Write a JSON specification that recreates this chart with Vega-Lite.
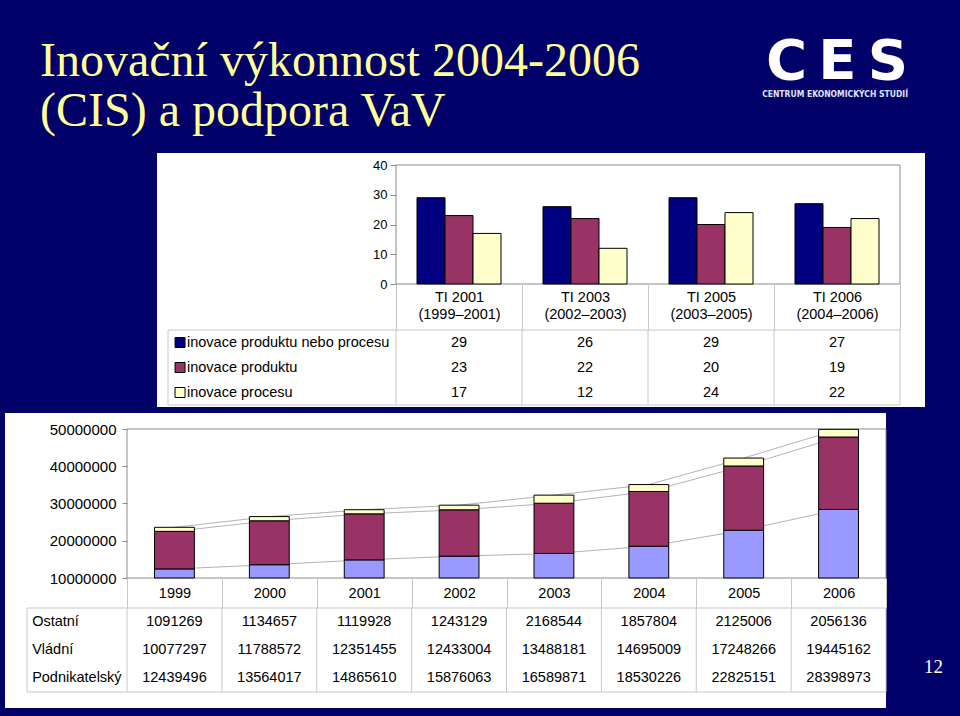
{
  "$schema": "https://vega.github.io/schema/vega-lite/v6.json",
  "background": "#000068",
  "padding": {"left": 5, "top": 33, "right": 20, "bottom": 10},
  "autosize": {"type": "pad"},
  "spacing": 6,
  "resolve": {"scale": {"color": "independent"}},
  "datasets": {
    "cis": [
      {"cat": "TI 2001 (1999–2001)", "series": "inovace produktu nebo procesu", "value": 29},
      {"cat": "TI 2001 (1999–2001)", "series": "inovace produktu", "value": 23},
      {"cat": "TI 2001 (1999–2001)", "series": "inovace procesu", "value": 17},
      {"cat": "TI 2003 (2002–2003)", "series": "inovace produktu nebo procesu", "value": 26},
      {"cat": "TI 2003 (2002–2003)", "series": "inovace produktu", "value": 22},
      {"cat": "TI 2003 (2002–2003)", "series": "inovace procesu", "value": 12},
      {"cat": "TI 2005 (2003–2005)", "series": "inovace produktu nebo procesu", "value": 29},
      {"cat": "TI 2005 (2003–2005)", "series": "inovace produktu", "value": 20},
      {"cat": "TI 2005 (2003–2005)", "series": "inovace procesu", "value": 24},
      {"cat": "TI 2006 (2004–2006)", "series": "inovace produktu nebo procesu", "value": 27},
      {"cat": "TI 2006 (2004–2006)", "series": "inovace produktu", "value": 19},
      {"cat": "TI 2006 (2004–2006)", "series": "inovace procesu", "value": 22}
    ],
    "vav": [
      {"year": "1999", "series": "Podnikatelský", "k": 1, "value": 12439496},
      {"year": "1999", "series": "Vládní", "k": 2, "value": 10077297},
      {"year": "1999", "series": "Ostatní", "k": 3, "value": 1091269},
      {"year": "2000", "series": "Podnikatelský", "k": 1, "value": 13564017},
      {"year": "2000", "series": "Vládní", "k": 2, "value": 11788572},
      {"year": "2000", "series": "Ostatní", "k": 3, "value": 1134657},
      {"year": "2001", "series": "Podnikatelský", "k": 1, "value": 14865610},
      {"year": "2001", "series": "Vládní", "k": 2, "value": 12351455},
      {"year": "2001", "series": "Ostatní", "k": 3, "value": 1119928},
      {"year": "2002", "series": "Podnikatelský", "k": 1, "value": 15876063},
      {"year": "2002", "series": "Vládní", "k": 2, "value": 12433004},
      {"year": "2002", "series": "Ostatní", "k": 3, "value": 1243129},
      {"year": "2003", "series": "Podnikatelský", "k": 1, "value": 16589871},
      {"year": "2003", "series": "Vládní", "k": 2, "value": 13488181},
      {"year": "2003", "series": "Ostatní", "k": 3, "value": 2168544},
      {"year": "2004", "series": "Podnikatelský", "k": 1, "value": 18530226},
      {"year": "2004", "series": "Vládní", "k": 2, "value": 14695009},
      {"year": "2004", "series": "Ostatní", "k": 3, "value": 1857804},
      {"year": "2005", "series": "Podnikatelský", "k": 1, "value": 22825151},
      {"year": "2005", "series": "Vládní", "k": 2, "value": 17248266},
      {"year": "2005", "series": "Ostatní", "k": 3, "value": 2125006},
      {"year": "2006", "series": "Podnikatelský", "k": 1, "value": 28398973},
      {"year": "2006", "series": "Vládní", "k": 2, "value": 19445162},
      {"year": "2006", "series": "Ostatní", "k": 3, "value": 2056136}
    ]
  },
  "vconcat": [
    {
      "columns": 2,
      "spacing": 0,
      "bounds": "flush",
      "concat": [
        {
          "width": 152, "height": 177,
          "view": {"fill": null, "stroke": null},
          "data": {"values": []},
          "mark": "text",
          "encoding": {},
          "title": {"text": ["Inovační výkonnost 2004-2006", "(CIS) a podpora VaV"], "orient": "top", "anchor": "start", "frame": "group", "font": "Liberation Serif", "fontSize": 48, "fontWeight": "normal", "color": "#FFFF99", "lineHeight": 50, "baseline": "alphabetic", "offset": -21, "dx": 35}
        },
        {
          "width": 768, "height": 177,
          "view": {"fill": "white", "stroke": null},
          "title": {"text": "C\u2009E\u2009S", "subtitle": "CENTRUM EKONOMICKÝCH STUDIÍ", "orient": "top", "anchor": "end", "frame": "group", "font": "DejaVu Sans", "fontSize": 56, "fontWeight": "bold", "color": "#FFFFFF", "subtitleFont": "DejaVu Sans Condensed, Liberation Sans Narrow, Liberation Sans", "subtitleFontSize": 8.5, "subtitleFontWeight": "bold", "subtitleColor": "#E0E4F4", "subtitlePadding": -38, "baseline": "alphabetic", "offset": 10, "dx": -17},
          "layer": [
            {
              "data": {"values": [{}]},
              "mark": {"type": "rect", "filled": false, "color": "#8C8C8C", "strokeWidth": 1},
              "encoding": {
                "x": {"datum": "TI 2001 (1999–2001)", "type": "nominal", "bandPosition": 0,
                      "scale": {"type": "band", "domain": ["TI 2001 (1999–2001)", "TI 2003 (2002–2003)", "TI 2005 (2003–2005)", "TI 2006 (2004–2006)"], "range": [239, 743], "paddingInner": 0, "paddingOuter": 0, "round": false},
                      "axis": {"orient": "bottom", "offset": -46, "domain": false, "grid": false, "ticks": true, "tickBand": "extent", "tickSize": 46, "tickColor": "#C8C8C8", "tickWidth": 1, "labelExpr": "[slice(datum.label, 0, 7), slice(datum.label, 8)]", "labelPadding": -40, "labelFontSize": 14.5, "labelLineHeight": 17, "labelAngle": 0, "labelColor": "#000000", "labelFont": "Liberation Sans", "title": null}},
                "x2": {"datum": "TI 2006 (2004–2006)", "bandPosition": 1},
                "y": {"datum": 0, "type": "quantitative",
                      "scale": {"domain": [-15.462, 44.034], "nice": false, "zero": false},
                      "axis": {"values": [0, 10, 20, 30, 40], "orient": "left", "offset": -239, "domain": false, "grid": false, "tickSize": 6, "tickColor": "#8C8C8C", "labelPadding": 3, "labelFontSize": 13, "labelColor": "#000000", "labelFont": "Liberation Sans", "title": null}},
                "y2": {"datum": 40}
              }
            },
            {
              "data": {"name": "cis"},
              "mark": {"type": "bar", "stroke": "#000000", "strokeWidth": 1},
              "encoding": {
                "x": {"field": "cat", "type": "nominal"},
                "xOffset": {"field": "series", "type": "nominal", "scale": {"domain": ["inovace produktu nebo procesu", "inovace produktu", "inovace procesu"], "paddingInner": 0, "paddingOuter": 0.75}},
                "y": {"field": "value", "type": "quantitative"},
                "y2": {"datum": 0},
                "color": {"field": "series", "type": "nominal", "scale": {"domain": ["inovace produktu nebo procesu", "inovace produktu", "inovace procesu"], "range": ["#000080", "#993366", "#FFFFCC"]}, "legend": null}
              }
            }
          ]
        },
        {
          "width": 152, "height": 77,
          "view": {"fill": null, "stroke": null},
          "data": {"values": []},
          "mark": "text",
          "encoding": {}
        },
        {
          "width": 768, "height": 77,
          "view": {"fill": "white", "stroke": null},
          "layer": [
            {
              "data": {"name": "cis"},
              "transform": [{"filter": {"field": "series", "equal": "inovace procesu"}}],
              "mark": {"type": "rule", "color": "#C8C8C8", "strokeWidth": 1},
              "encoding": {
                "x": {"field": "cat", "type": "nominal", "bandPosition": 0,
                      "scale": {"type": "band", "domain": ["TI 2001 (1999–2001)", "TI 2003 (2002–2003)", "TI 2005 (2003–2005)", "TI 2006 (2004–2006)"], "range": [239, 743], "paddingInner": 0, "paddingOuter": 0, "round": false},
                      "axis": null},
                "y": {"datum": "inovace produktu nebo procesu", "type": "nominal", "bandPosition": 0,
                      "scale": {"type": "band", "domain": ["inovace produktu nebo procesu", "inovace produktu", "inovace procesu"], "paddingInner": 0, "paddingOuter": 0.04, "align": 0, "round": false},
                      "axis": null},
                "y2": {"datum": "inovace procesu", "bandPosition": 1}
              }
            },
            {
              "data": {"values": [{}]},
              "mark": {"type": "rule", "color": "#C8C8C8", "strokeWidth": 1},
              "encoding": {
                "x": {"datum": "TI 2006 (2004–2006)", "type": "nominal", "bandPosition": 1},
                "y": {"datum": "inovace produktu nebo procesu", "type": "nominal", "bandPosition": 0},
                "y2": {"datum": "inovace procesu", "bandPosition": 1}
              }
            },
            {
              "data": {"values": [{}]},
              "mark": {"type": "rule", "color": "#C8C8C8", "strokeWidth": 1},
              "encoding": {
                "x": {"datum": "TI 2001 (1999–2001)", "type": "nominal", "bandPosition": -1.8095},
                "y": {"datum": "inovace produktu nebo procesu", "type": "nominal", "bandPosition": 0},
                "y2": {"datum": "inovace procesu", "bandPosition": 1}
              }
            },
            {
              "data": {"values": [{}]},
              "mark": {"type": "rule", "color": "#C8C8C8", "strokeWidth": 1},
              "encoding": {
                "x": {"datum": "TI 2001 (1999–2001)", "type": "nominal", "bandPosition": -1.8095},
                "x2": {"datum": "TI 2006 (2004–2006)", "bandPosition": 1},
                "y": {"datum": "inovace produktu nebo procesu", "type": "nominal", "bandPosition": 0}
              }
            },
            {
              "data": {"values": [{}]},
              "mark": {"type": "rule", "color": "#C8C8C8", "strokeWidth": 1},
              "encoding": {
                "x": {"datum": "TI 2001 (1999–2001)", "type": "nominal", "bandPosition": -1.8095},
                "x2": {"datum": "TI 2006 (2004–2006)", "bandPosition": 1},
                "y": {"datum": "inovace procesu", "type": "nominal", "bandPosition": 1}
              }
            },
            {
              "data": {"name": "cis"},
              "transform": [{"filter": {"field": "cat", "equal": "TI 2001 (1999–2001)"}}],
              "mark": {"type": "point", "shape": "square", "filled": true, "size": 100, "stroke": "#000000", "strokeWidth": 1, "opacity": 1},
              "encoding": {
                "x": {"datum": "TI 2001 (1999–2001)", "type": "nominal", "bandPosition": -1.714},
                "y": {"field": "series", "type": "nominal"},
                "color": {"field": "series", "type": "nominal", "scale": {"domain": ["inovace produktu nebo procesu", "inovace produktu", "inovace procesu"], "range": ["#000080", "#993366", "#FFFFCC"]}, "legend": null}
              }
            },
            {
              "data": {"name": "cis"},
              "transform": [{"filter": {"field": "cat", "equal": "TI 2001 (1999–2001)"}}],
              "mark": {"type": "text", "align": "left", "baseline": "middle", "fontSize": 14.5},
              "encoding": {
                "x": {"datum": "TI 2001 (1999–2001)", "type": "nominal", "bandPosition": -1.6587},
                "y": {"field": "series", "type": "nominal"},
                "text": {"field": "series", "type": "nominal"}
              }
            },
            {
              "data": {"name": "cis"},
              "mark": {"type": "text", "baseline": "middle", "fontSize": 14.5},
              "encoding": {
                "x": {"field": "cat", "type": "nominal"},
                "y": {"field": "series", "type": "nominal"},
                "text": {"field": "value", "type": "quantitative", "format": "d"}
              }
            }
          ]
        }
      ]
    },
    {
      "spacing": 0,
      "bounds": "flush",
      "vconcat": [
        {
          "width": 881, "height": 195,
          "view": {"fill": "white", "stroke": null},
          "layer": [
            {
              "data": {"values": [{}]},
              "mark": {"type": "rect", "filled": false, "color": "#8C8C8C", "strokeWidth": 1},
              "encoding": {
                "x": {"datum": "1999", "type": "nominal", "bandPosition": 0,
                      "scale": {"type": "band", "domain": ["1999", "2000", "2001", "2002", "2003", "2004", "2005", "2006"], "paddingInner": 0, "paddingOuter": 0.643, "align": 1, "round": false},
                      "axis": {"orient": "bottom", "offset": -30, "domain": false, "grid": false, "ticks": true, "tickBand": "extent", "tickSize": 30, "tickColor": "#C8C8C8", "tickWidth": 1, "labelPadding": -22, "labelFontSize": 14.5, "labelAngle": 0, "labelColor": "#000000", "labelFont": "Liberation Sans", "title": null}},
                "x2": {"datum": "2006", "bandPosition": 1},
                "y": {"datum": 10000000, "type": "quantitative",
                      "scale": {"domain": [1946300, 54295300], "nice": false, "zero": false},
                      "axis": {"values": [10000000, 20000000, 30000000, 40000000, 50000000], "format": "d", "orient": "left", "offset": -122, "domain": false, "grid": false, "tickSize": 5, "tickColor": "#8C8C8C", "labelPadding": 6, "labelFontSize": 15, "labelColor": "#000000", "labelFont": "Liberation Sans", "title": null}},
                "y2": {"datum": 50000000}
              }
            },
            {
              "data": {"name": "vav"},
              "transform": [{"stack": "value", "groupby": ["year"], "sort": [{"field": "k", "order": "ascending"}], "as": ["v0", "v1"]}],
              "mark": {"type": "line", "color": "#B4B4B4", "strokeWidth": 1},
              "encoding": {
                "x": {"field": "year", "type": "nominal"},
                "y": {"field": "v1", "type": "quantitative"},
                "detail": {"field": "series", "type": "nominal"}
              }
            },
            {
              "data": {"name": "vav"},
              "transform": [{"filter": {"field": "series", "equal": "Podnikatelský"}}],
              "mark": {"type": "bar", "width": {"band": 0.42}, "stroke": "#000000", "strokeWidth": 1},
              "encoding": {
                "x": {"field": "year", "type": "nominal"},
                "y": {"field": "value", "type": "quantitative"},
                "y2": {"datum": 10000000},
                "color": {"field": "series", "type": "nominal", "scale": {"domain": ["Podnikatelský", "Vládní", "Ostatní"], "range": ["#9999FF", "#993366", "#FFFFCC"]}, "legend": null}
              }
            },
            {
              "data": {"name": "vav"},
              "transform": [
                {"stack": "value", "groupby": ["year"], "sort": [{"field": "k", "order": "ascending"}], "as": ["v0", "v1"]},
                {"filter": {"not": {"field": "series", "equal": "Podnikatelský"}}}
              ],
              "mark": {"type": "bar", "width": {"band": 0.42}, "stroke": "#000000", "strokeWidth": 1},
              "encoding": {
                "x": {"field": "year", "type": "nominal"},
                "y": {"field": "v1", "type": "quantitative"},
                "y2": {"field": "v0"},
                "color": {"field": "series", "type": "nominal", "scale": {"domain": ["Podnikatelský", "Vládní", "Ostatní"], "range": ["#9999FF", "#993366", "#FFFFCC"]}, "legend": null}
              }
            }
          ]
        },
        {
          "width": 881, "height": 100,
          "view": {"fill": "white", "stroke": null},
          "title": {"text": "12", "orient": "bottom", "anchor": "end", "frame": "group", "font": "Liberation Serif", "fontSize": 19, "fontWeight": "normal", "color": "#FFFFFF", "baseline": "alphabetic", "offset": 0, "dx": 57, "dy": -35},
          "layer": [
            {
              "data": {"name": "vav"},
              "transform": [{"filter": {"field": "k", "equal": 1}}],
              "mark": {"type": "rule", "color": "#C8C8C8", "strokeWidth": 1},
              "encoding": {
                "x": {"field": "year", "type": "nominal", "bandPosition": 0,
                      "scale": {"type": "band", "domain": ["1999", "2000", "2001", "2002", "2003", "2004", "2005", "2006"], "paddingInner": 0, "paddingOuter": 0.643, "align": 1, "round": false},
                      "axis": null},
                "y": {"datum": "Ostatní", "type": "nominal", "bandPosition": 0,
                      "scale": {"type": "band", "domain": ["Ostatní", "Vládní", "Podnikatelský"], "paddingInner": 0, "paddingOuter": 0.2857, "align": 0, "round": false},
                      "axis": null},
                "y2": {"datum": "Podnikatelský", "bandPosition": 1}
              }
            },
            {
              "data": {"values": [{}]},
              "mark": {"type": "rule", "color": "#C8C8C8", "strokeWidth": 1},
              "encoding": {
                "x": {"datum": "2006", "type": "nominal", "bandPosition": 1},
                "y": {"datum": "Ostatní", "type": "nominal", "bandPosition": 0},
                "y2": {"datum": "Podnikatelský", "bandPosition": 1}
              }
            },
            {
              "data": {"values": [{}]},
              "mark": {"type": "rule", "color": "#C8C8C8", "strokeWidth": 1},
              "encoding": {
                "x": {"datum": "1999", "type": "nominal", "bandPosition": -1.054},
                "y": {"datum": "Ostatní", "type": "nominal", "bandPosition": 0},
                "y2": {"datum": "Podnikatelský", "bandPosition": 1}
              }
            },
            {
              "data": {"values": [{}]},
              "mark": {"type": "rule", "color": "#C8C8C8", "strokeWidth": 1},
              "encoding": {
                "x": {"datum": "1999", "type": "nominal", "bandPosition": -1.054},
                "x2": {"datum": "2006", "bandPosition": 1},
                "y": {"datum": "Ostatní", "type": "nominal", "bandPosition": 0}
              }
            },
            {
              "data": {"values": [{}]},
              "mark": {"type": "rule", "color": "#C8C8C8", "strokeWidth": 1},
              "encoding": {
                "x": {"datum": "1999", "type": "nominal", "bandPosition": -1.054},
                "x2": {"datum": "2006", "bandPosition": 1},
                "y": {"datum": "Podnikatelský", "type": "nominal", "bandPosition": 1}
              }
            },
            {
              "data": {"name": "vav"},
              "transform": [{"filter": {"field": "year", "equal": "1999"}}],
              "mark": {"type": "text", "align": "left", "baseline": "middle", "fontSize": 14.5},
              "encoding": {
                "x": {"datum": "1999", "type": "nominal", "bandPosition": -1.0},
                "y": {"field": "series", "type": "nominal"},
                "text": {"field": "series", "type": "nominal"}
              }
            },
            {
              "data": {"name": "vav"},
              "mark": {"type": "text", "baseline": "middle", "fontSize": 14.5},
              "encoding": {
                "x": {"field": "year", "type": "nominal"},
                "y": {"field": "series", "type": "nominal"},
                "text": {"field": "value", "type": "quantitative", "format": "d"}
              }
            }
          ]
        }
      ]
    }
  ],
  "config": {
    "view": {"stroke": null},
    "font": "Liberation Sans",
    "text": {"font": "Liberation Sans", "fontSize": 14.5, "color": "#000000"},
    "axis": {"labelFont": "Liberation Sans", "labelColor": "#000000"}
  }
}
